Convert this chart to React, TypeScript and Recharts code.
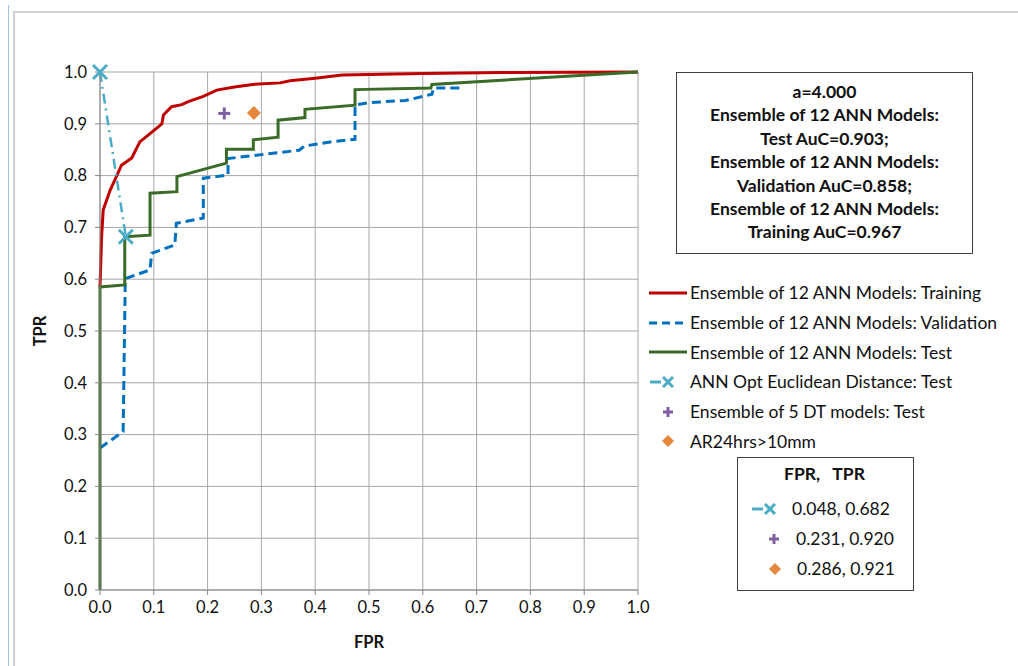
import { ComposedChart, Line, Scatter, XAxis, YAxis, CartesianGrid, Legend } from 'recharts';

const TICKS = [0, 0.1, 0.2, 0.3, 0.4, 0.5, 0.6, 0.7, 0.8, 0.9, 1.0];

const trainFpr = [0, 0, 0.003, 0.006, 0.019, 0.04, 0.059, 0.074, 0.105, 0.115, 0.118, 0.133, 0.152, 0.164, 0.192, 0.217, 0.25, 0.284, 0.335, 0.353, 0.4, 0.45, 0.5, 0.6, 0.75, 1.0];
const trainTpr = [0.585, 0.585, 0.682, 0.734, 0.772, 0.82, 0.834, 0.865, 0.891, 0.9, 0.917, 0.933, 0.937, 0.943, 0.953, 0.965, 0.971, 0.976, 0.979, 0.983, 0.988, 0.994, 0.995, 0.997, 0.999, 1.0];

const validFpr = [0, 0.043, 0.047, 0.093, 0.096, 0.139, 0.142, 0.192, 0.192, 0.238, 0.238, 0.37, 0.38, 0.428, 0.474, 0.474, 0.5, 0.568, 0.617, 0.62, 0.669];
const validTpr = [0.274, 0.306, 0.601, 0.618, 0.65, 0.666, 0.708, 0.718, 0.795, 0.801, 0.833, 0.849, 0.857, 0.865, 0.87, 0.936, 0.941, 0.945, 0.957, 0.969, 0.969];

const testFpr = [0, 0, 0.046, 0.046, 0.093, 0.093, 0.143, 0.143, 0.235, 0.235, 0.285, 0.285, 0.331, 0.331, 0.381, 0.381, 0.474, 0.474, 0.615, 0.617, 1.0];
const testTpr = [0, 0.585, 0.589, 0.682, 0.685, 0.766, 0.769, 0.798, 0.824, 0.851, 0.851, 0.869, 0.874, 0.907, 0.912, 0.928, 0.936, 0.966, 0.969, 0.976, 1.0];

const euclidFpr = [0, 0.048];
const euclidTpr = [1.0, 0.682];

const dtPoint = [{ x: 0.231, y: 0.92 }];
const arPoint = [{ x: 0.286, y: 0.921 }];

const AUC_LINES = [
  'a=4.000',
  'Ensemble of 12 ANN Models:',
  'Test AuC=0.903;',
  'Ensemble of 12 ANN Models:',
  'Validation AuC=0.858;',
  'Ensemble of 12 ANN Models:',
  'Training AuC=0.967',
];

const zip = (xs: number[], ys: number[]) => xs.map((x, i) => ({ x, y: ys[i] }));

const trainData = zip(trainFpr, trainTpr);
const validData = zip(validFpr, validTpr);
const testData = zip(testFpr, testTpr);
const euclidData = zip(euclidFpr, euclidTpr);

const RED = '#C00000';
const BLUE = '#0070C0';
const GREEN = '#3A6B27';
const TEAL = '#4BACC6';
const PURPLE = '#7F5FA0';
const ORANGE = '#E5883D';
const FONT = 'Lato, sans-serif';

function XMark({ cx, cy, size = 7 }: { cx: number; cy: number; size?: number }) {
  return (
    <g stroke={TEAL} strokeWidth={3}>
      <line x1={cx - size} y1={cy - size} x2={cx + size} y2={cy + size} />
      <line x1={cx - size} y1={cy + size} x2={cx + size} y2={cy - size} />
    </g>
  );
}

function PlusMark({ cx, cy, size = 6 }: { cx: number; cy: number; size?: number }) {
  return (
    <g stroke={PURPLE} strokeWidth={3}>
      <line x1={cx - size} y1={cy} x2={cx + size} y2={cy} />
      <line x1={cx} y1={cy - size} x2={cx} y2={cy + size} />
    </g>
  );
}

function Diamond({ cx, cy, size = 7 }: { cx: number; cy: number; size?: number }) {
  return <polygon points={`${cx},${cy - size} ${cx + size},${cy} ${cx},${cy + size} ${cx - size},${cy}`} fill={ORANGE} />;
}

const LEGEND = [
  { label: 'Ensemble of 12 ANN Models: Training', kind: 'line', color: RED, dash: undefined },
  { label: 'Ensemble of 12 ANN Models: Validation', kind: 'line', color: BLUE, dash: '8 5' },
  { label: 'Ensemble of 12 ANN Models: Test', kind: 'line', color: GREEN, dash: undefined },
  { label: 'ANN Opt Euclidean Distance: Test', kind: 'x', color: TEAL, dash: undefined },
  { label: 'Ensemble of 5 DT models: Test', kind: 'plus', color: PURPLE, dash: undefined },
  { label: 'AR24hrs>10mm', kind: 'diamond', color: ORANGE, dash: undefined },
];

function LegendIcon({ kind, color, dash }: { kind: string; color: string; dash?: string }) {
  return (
    <svg width={42} height={20} style={{ flex: 'none' }}>
      {kind === 'line' && <line x1={1} y1={10} x2={39} y2={10} stroke={color} strokeWidth={3} strokeDasharray={dash} />}
      {kind === 'x' && (
        <>
          <line x1={2} y1={10} x2={13} y2={10} stroke={TEAL} strokeWidth={3} />
          <XMark cx={20} cy={10} size={5} />
        </>
      )}
      {kind === 'plus' && <PlusMark cx={20} cy={10} size={5} />}
      {kind === 'diamond' && <Diamond cx={20} cy={10} size={6} />}
    </svg>
  );
}

function renderLegend() {
  return (
    <div style={{ fontFamily: FONT, fontSize: 17.5, color: '#111', textAlign: 'left' }}>
      {LEGEND.map((d) => (
        <div key={d.label} style={{ display: 'flex', alignItems: 'center', height: 29.7, whiteSpace: 'nowrap' }}>
          <LegendIcon kind={d.kind} color={d.color} dash={d.dash} />
          <span>{d.label}</span>
        </div>
      ))}
    </div>
  );
}

const fmt = (v: number) => v.toFixed(1);

export default function App() {
  return (
    <div style={{ position: 'absolute', left: 0, top: 0, width: 1018, height: 666, background: '#fff' }}>
      <div style={{ position: 'absolute', left: 8, top: 5, width: 0, height: 661, borderLeft: '1px solid #9DC3E6' }} />
      <div style={{ position: 'absolute', left: 13, top: 11, width: 1005, height: 655, borderLeft: '2px solid #D0D0D0', borderTop: '2px solid #D0D0D0' }} />
      <ComposedChart width={1018} height={666} margin={{ top: 72, right: 380, bottom: 36, left: 40 }} style={{ position: 'absolute', left: 0, top: 0 }}>
        <CartesianGrid stroke="#A6A6A6" strokeWidth={1} />
        <XAxis
          type="number"
          dataKey="x"
          domain={[0, 1]}
          ticks={TICKS}
          tickFormatter={fmt}
          height={40}
          stroke="#868686"
          tickSize={5}
          tickMargin={6}
          tick={{ fill: '#111', fontSize: 16.5, fontFamily: FONT }}
          label={{ value: 'FPR', position: 'bottom', offset: 6, fill: '#111', fontSize: 16.5, fontWeight: 700, fontFamily: FONT }}
        />
        <YAxis
          type="number"
          dataKey="y"
          domain={[0, 1]}
          ticks={TICKS}
          tickFormatter={fmt}
          width={60}
          stroke="#868686"
          tickSize={5}
          tickMargin={8}
          tick={{ fill: '#111', fontSize: 16.5, fontFamily: FONT }}
        />
        <Line data={trainData} dataKey="y" stroke={RED} strokeWidth={3} dot={false} isAnimationActive={false} type="linear" />
        <Line data={validData} dataKey="y" stroke={BLUE} strokeWidth={3} strokeDasharray="9 5" dot={false} isAnimationActive={false} type="linear" />
        <Line data={testData} dataKey="y" stroke={GREEN} strokeWidth={3} dot={false} isAnimationActive={false} type="linear" />
        <Line
          data={euclidData}
          dataKey="y"
          stroke={TEAL}
          strokeWidth={2.5}
          strokeDasharray="10 5 2 5"
          isAnimationActive={false}
          type="linear"
          dot={(p: any) => <XMark key={`x-${p.index}`} cx={p.cx} cy={p.cy} />}
        />
        <Scatter data={dtPoint} dataKey="y" isAnimationActive={false} shape={(p: any) => <PlusMark cx={p.cx} cy={p.cy} />} />
        <Scatter data={arPoint} dataKey="y" isAnimationActive={false} shape={(p: any) => <Diamond cx={p.cx} cy={p.cy} />} />
        <Legend content={renderLegend} layout="vertical" verticalAlign="middle" align="center" wrapperStyle={{ left: 648, top: 278, width: 370 }} />
      </ComposedChart>
      <div
        style={{
          position: 'absolute',
          left: 676,
          top: 72,
          width: 297,
          height: 182,
          border: '1px solid #404040',
          fontFamily: FONT,
          fontWeight: 700,
          fontSize: 17.5,
          color: '#111',
          textAlign: 'center',
          lineHeight: '23.4px',
          paddingTop: 7,
          boxSizing: 'border-box',
          background: '#fff',
        }}
      >
        {AUC_LINES.map((t, i) => (
          <div key={i}>{t}</div>
        ))}
      </div>
      <div
        style={{
          position: 'absolute',
          left: 737,
          top: 457,
          width: 177,
          height: 134,
          border: '1px solid #404040',
          boxSizing: 'border-box',
          fontFamily: FONT,
          fontSize: 17.5,
          color: '#111',
          background: '#fff',
        }}
      >
        <div style={{ position: 'absolute', left: 46, top: 5, fontWeight: 700, whiteSpace: 'pre' }}>{'FPR,   TPR'}</div>
        <div style={{ position: 'absolute', left: 12, top: 40, display: 'flex', alignItems: 'center' }}>
          <LegendIcon kind="x" color={TEAL} />
          <span>0.048, 0.682</span>
        </div>
        <div style={{ position: 'absolute', left: 16, top: 70, display: 'flex', alignItems: 'center' }}>
          <LegendIcon kind="plus" color={PURPLE} />
          <span>0.231, 0.920</span>
        </div>
        <div style={{ position: 'absolute', left: 17, top: 100, display: 'flex', alignItems: 'center' }}>
          <LegendIcon kind="diamond" color={ORANGE} />
          <span>0.286, 0.921</span>
        </div>
      </div>
      <div
        style={{
          position: 'absolute',
          left: 40,
          top: 331,
          transform: 'translate(-50%, -50%) rotate(-90deg)',
          fontFamily: FONT,
          fontWeight: 700,
          fontSize: 16.5,
          color: '#111',
        }}
      >
        TPR
      </div>
    </div>
  );
}
